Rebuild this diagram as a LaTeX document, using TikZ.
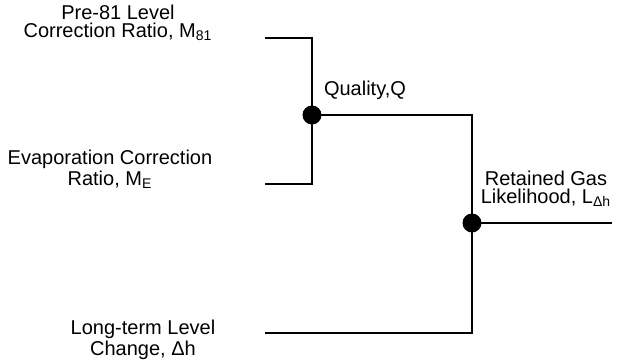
\documentclass[tikz,border=0pt]{standalone}
\usepackage{fontspec}
\setmainfont{Liberation Sans}
\usepackage{tikz}
\usetikzlibrary{calc,positioning}

\begin{document}
\begin{tikzpicture}[x=0.5pt,y=-0.5pt,
    lbl/.style={align=center, inner sep=0pt, font=\fontsize{10}{9}\selectfont},
    wire/.style={line width=1.1pt},
    junc/.style={circle, fill=black, inner sep=0pt, minimum size=9.5pt}]
                \useasboundingbox (0,0) rectangle (622,360);
                % input labels
                \node[lbl] (m81) at (118,23) {Pre-81 Level\\Correction Ratio, M\textsubscript{81}};
                \node[lbl] (me) at (110,169) {Evaporation Correction\\Ratio, M\textsubscript{E}};
                \node[lbl] (dh) at (143,340) {Long-term Level\\Change, Δh};
                % line ends
                \coordinate (m81in) at (265,38);
                \coordinate (mein) at (265,184);
                \coordinate (dhin) at (265,333);
                \coordinate (lout) at (612,223);
                % junctions
                \node[junc] (qdot) at (312,115) {};
                \node[junc] (ldot) at (472,223) {};
                % wires
                \draw[wire] (m81in) -| (qdot.center) |- (mein);
                \draw[wire] (qdot.center) -| (ldot.center) |- (dhin);
                \draw[wire] (ldot.center) -- (lout);
                % output labels
                \node[lbl] (q) at (365,90) {Quality,Q};
                \node[lbl] (l) at (546,189) {Retained Gas\\Likelihood, L\textsubscript{Δh}};
              \end{tikzpicture}
\end{document}
